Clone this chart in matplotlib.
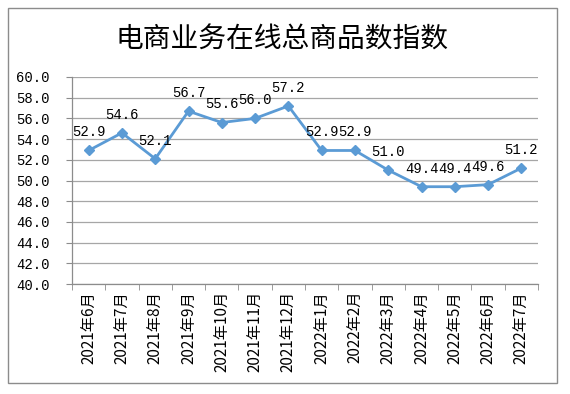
import matplotlib
matplotlib.use("Agg")
import matplotlib.pyplot as plt
from matplotlib.patches import Rectangle
import numpy as np

categories = ["2021年6月", "2021年7月", "2021年8月", "2021年9月", "2021年10月", "2021年11月",
              "2021年12月", "2022年1月", "2022年2月", "2022年3月", "2022年4月", "2022年5月",
              "2022年6月", "2022年7月"]
values = [52.9, 54.6, 52.1, 56.7, 55.6, 56.0, 57.2, 52.9, 52.9, 51.0, 49.4, 49.4, 49.6, 51.2]
yticks = [40.0, 42.0, 44.0, 46.0, 48.0, 50.0, 52.0, 54.0, 56.0, 58.0, 60.0]
title = "电商业务在线总商品数指数"

plt.rcParams['font.family'] = ['Noto Sans CJK SC', 'DejaVu Sans']

W, H = 570, 394
fig = plt.figure(figsize=(W / 100, H / 100), dpi=100)
fig.patch.set_facecolor("white")
fig.add_artist(Rectangle((8 / W, 1 - 383 / H), (557 - 8) / W, (383 - 8) / H,
                         transform=fig.transFigure, fill=False, edgecolor="#8C8C8C", lw=1))

ax = fig.add_axes([72 / W, 1 - 284 / H, (538 - 72) / W, (284 - 77) / H])
x = np.arange(len(categories))
line_color = "#5B9BD5"
ax.plot(x, values, color=line_color, lw=2, marker="D", markersize=5.5, zorder=3)

ax.set_xlim(-0.5, len(categories) - 0.5)
ax.set_ylim(40, 60)
ax.set_yticks(yticks)
ax.set_yticklabels([f"{v:.1f}" for v in yticks], family=['Liberation Mono'], fontsize=10)
ax.yaxis.grid(True, color="#A6A6A6", lw=0.9)
ax.set_axisbelow(True)

ax.set_xticks(x)
ax.set_xticklabels(categories, rotation=90, fontsize=11)
ax.tick_params(axis="x", which="major", length=0, pad=5)
ax.set_xticks(np.arange(-0.5, len(categories), 1.0), minor=True)
ax.tick_params(axis="x", which="minor", length=4, color="#8C8C8C", direction="out")
ax.tick_params(axis="y", length=4, color="#8C8C8C", direction="out", pad=12)

for s in ["top", "right"]:
    ax.spines[s].set_visible(False)
for s in ["left", "bottom"]:
    ax.spines[s].set_color("#8C8C8C")
    ax.spines[s].set_linewidth(0.9)

for xi, v in zip(x, values):
    ax.annotate(f"{v:.1f}", (xi, v), xytext=(0, 13), textcoords="offset points",
                ha="center", va="center", fontsize=10, family=['Liberation Mono'])

fig.text(282 / W, 1 - 40 / H, title, ha="center", va="center", fontsize=20)

fig.savefig("out.png", dpi=100)
